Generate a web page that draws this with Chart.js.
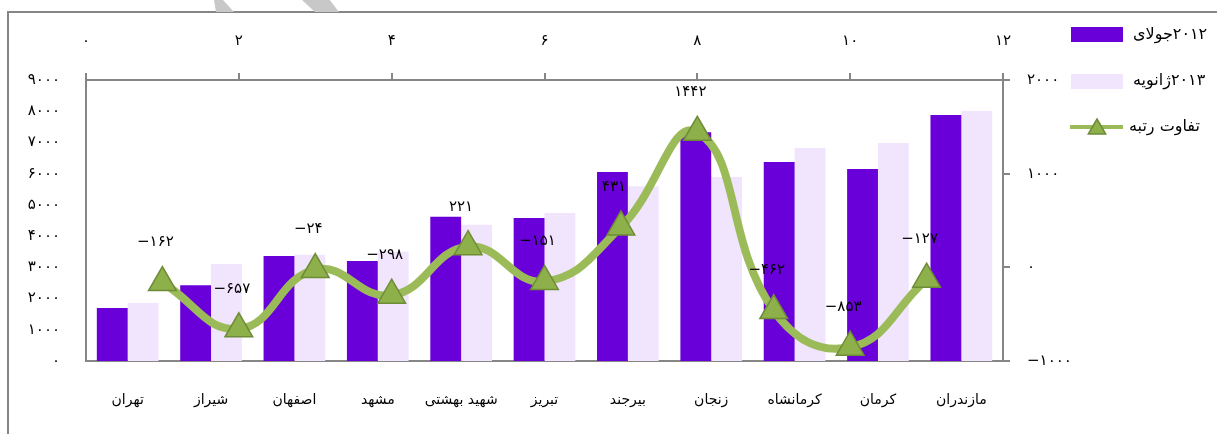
<!DOCTYPE html>
<html>
<head>
<meta charset="utf-8">
<script src="https://cdn.jsdelivr.net/npm/chart.js@4.4.1/dist/chart.umd.min.js"></script>
<style>
  html, body { margin: 0; padding: 0; background: #fff; overflow: hidden; }
  #wrap { position: relative; width: 1217px; height: 434px; }
  #frame { position: absolute; left: 7px; top: 11px; width: 1400px; height: 600px; border: 2px solid #868686; }
  .mark { position: absolute; top: 0; height: 12px; background: #c8c8c8; }
  #m1 { left: 214px; width: 20px; clip-path: polygon(0 0, 45% 0, 100% 100%, 10% 100%); }
  #m2 { left: 302px; width: 37px; clip-path: polygon(0 0, 75% 0, 100% 100%, 35% 100%); }
  canvas { position: absolute; left: 0; top: 0; }
</style>
</head>
<body>
<div id="wrap">
  <div id="frame"></div>
  <div class="mark" id="m1"></div>
  <div class="mark" id="m2"></div>
  <canvas id="myChart" width="1217" height="434"></canvas>
</div>
<script>
// data
const categories = ['تهران', 'شیراز', 'اصفهان', 'مشهد', 'شهید بهشتی', 'تبریز', 'بیرجند', 'زنجان', 'کرمانشاه', 'کرمان', 'مازندران'];
const july2012 = [1700, 2430, 3360, 3200, 4620, 4580, 6050, 7330, 6370, 6150, 7880];
const jan2013 = [1860, 3110, 3400, 3500, 4360, 4740, 5600, 5890, 6820, 6980, 8010];
const rankPos = [1, 2, 3, 4, 5, 6, 7, 8, 9, 10, 11];
const rankDiff = [-162, -657, -24, -298, 221, -151, 431, 1442, -462, -853, -127];
const seriesNames = ['۲۰۱۲جولای', '۲۰۱۳ژانویه', 'تفاوت رتبه'];
const topTicks = ['۰', '۲', '۴', '۶', '۸', '۱۰', '۱۲'];
const leftTicks = ['۰', '۱۰۰۰', '۲۰۰۰', '۳۰۰۰', '۴۰۰۰', '۵۰۰۰', '۶۰۰۰', '۷۰۰۰', '۸۰۰۰', '۹۰۰۰'];
const rightTicks = ['−۱۰۰۰', '۰', '۱۰۰۰', '۲۰۰۰'];

const purple = '#6A00D9';
const lavender = '#F1E4FD';
const green = '#9BBB59';
const axisGray = '#868686';

// the line sits on its own x axis (x2); keep it from splitting the bar groups
Chart.BarController.prototype._getAxisCount = function () { return 1; };

function toFa(n) {
  const s = String(Math.abs(n)).replace(/[0-9]/g, d => '۰۱۲۳۴۵۶۷۸۹'[d]);
  return n < 0 ? '−' + s : s;
}

function triangle(ctx, x, y, r) {
  ctx.beginPath();
  ctx.moveTo(x, y - r);
  ctx.lineTo(x + r * 0.87, y + r * 0.5);
  ctx.lineTo(x - r * 0.87, y + r * 0.5);
  ctx.closePath();
  ctx.fillStyle = '#8DB04A';
  ctx.fill();
  ctx.lineWidth = 1.5;
  ctx.strokeStyle = '#6E8B37';
  ctx.stroke();
}

const extras = {
  id: 'extras',
  afterDatasetsDraw(chart) {
    const ctx = chart.ctx;
    ctx.save();
    ctx.font = '15px "DejaVu Sans"';
    ctx.fillStyle = '#000';
    ctx.textAlign = 'center';
    ctx.textBaseline = 'middle';
    chart.getDatasetMeta(2).data.forEach((pt, i) => {
      ctx.fillText(toFa(rankDiff[i]), pt.x - 7, pt.y - 40);
    });

    // legend
    ctx.fillStyle = purple;
    ctx.fillRect(1071, 27, 52, 15);
    ctx.fillStyle = lavender;
    ctx.fillRect(1071, 74, 52, 15);
    ctx.strokeStyle = green;
    ctx.lineWidth = 4;
    ctx.beginPath();
    ctx.moveTo(1070, 127);
    ctx.lineTo(1123, 127);
    ctx.stroke();
    triangle(ctx, 1097, 129, 10);
    ctx.fillStyle = '#000';
    ctx.font = '16px "DejaVu Sans"';
    ctx.direction = 'rtl';
    ctx.textAlign = 'left';
    ctx.fillText(seriesNames[0], 1133, 35);
    ctx.fillText(seriesNames[1], 1133, 81);
    ctx.fillText(seriesNames[2], 1129, 127);
    ctx.restore();
  }
};

Chart.defaults.font.family = '"DejaVu Sans"';
Chart.defaults.font.size = 15;
Chart.defaults.color = '#000';

const ctx = document.getElementById('myChart').getContext('2d');
new Chart(ctx, {
  type: 'bar',
  data: {
    labels: categories,
    datasets: [
      {
        label: seriesNames[0],
        data: july2012,
        backgroundColor: purple,
        xAxisID: 'x',
        yAxisID: 'y',
        order: 1,
        categoryPercentage: 0.74,
        barPercentage: 1.0
      },
      {
        label: seriesNames[1],
        data: jan2013,
        backgroundColor: lavender,
        xAxisID: 'x',
        yAxisID: 'y',
        order: 1,
        categoryPercentage: 0.74,
        barPercentage: 1.0
      },
      {
        type: 'line',
        label: seriesNames[2],
        data: rankPos.map((p, i) => ({ x: p, y: rankDiff[i] })),
        xAxisID: 'x2',
        yAxisID: 'y2',
        order: 0,
        borderColor: green,
        borderWidth: 8,
        tension: 0.45,
        pointStyle: 'triangle',
        pointRadius: 16,
        pointBackgroundColor: '#8DB04A',
        pointBorderColor: '#6E8B37',
        pointBorderWidth: 1.5,
        clip: false
      }
    ]
  },
  options: {
    responsive: false,
    animation: false,
    layout: { padding: 0 },
    plugins: {
      legend: { display: false },
      tooltip: { enabled: false }
    },
    scales: {
      x: {
        type: 'category',
        position: 'bottom',
        grid: { display: false, drawTicks: false },
        border: { display: true, color: axisGray, width: 2 },
        ticks: { padding: 31, font: { size: 14 } },
        afterFit(s) { s.height = 73; }
      },
      x2: {
        type: 'linear',
        position: 'top',
        min: 0,
        max: 12,
        offset: false,
        grid: { display: true, offset: false, drawOnChartArea: false, drawTicks: true, tickLength: 7, color: axisGray, lineWidth: 2 },
        border: { display: true, color: axisGray, width: 2 },
        ticks: { stepSize: 2, padding: 23, callback: (v, i) => topTicks[i] },
        afterFit(s) { s.height = 80; }
      },
      y: {
        position: 'left',
        min: 0,
        max: 9000,
        grid: { display: false, drawTicks: false },
        border: { display: true, color: axisGray, width: 2 },
        ticks: { stepSize: 1000, padding: 26, callback: (v, i) => leftTicks[i] },
        afterFit(s) { s.width = 86; }
      },
      y2: {
        position: 'right',
        min: -1000,
        max: 2000,
        grid: { display: true, drawOnChartArea: false, drawTicks: true, tickLength: 7, color: axisGray, lineWidth: 2 },
        border: { display: true, color: axisGray, width: 2 },
        ticks: { stepSize: 1000, padding: 17, callback: (v, i) => rightTicks[i] },
        afterFit(s) { s.width = 214; }
      }
    }
  },
  plugins: [extras]
});
</script>
</body>
</html>
